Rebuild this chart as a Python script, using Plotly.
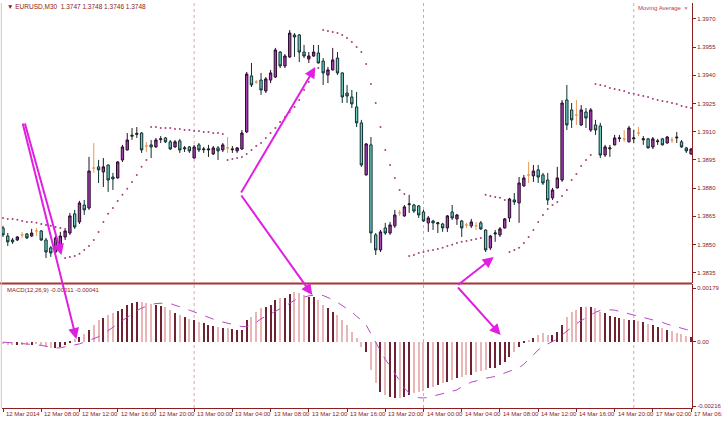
import plotly.graph_objects as go

# ---------------- data (EURUSD M30, bar index 0 = 12 Mar 04:00) ----------------
opens = [1.38588,1.38545,1.38524,1.38524,1.38551,1.38556,1.38545,1.38572,1.38572,1.38524,
         1.38482,1.38460,1.38498,1.38540,1.38561,1.38663,1.38620,1.38710,1.38694,1.38907,
         1.38913,1.38886,1.38923,1.38859,1.38854,1.38950,1.39003,1.39076,1.39086,1.39093,
         1.39024,1.39030,1.39019,1.39058,1.39067,1.39046,1.39019,1.39051,1.39009,1.39019,
         1.38960,1.39030,1.39004,1.39003,1.38982,1.39014,1.39003,1.39014,1.39004,1.38998,
         1.39008,1.39099,1.39397,1.39365,1.39375,1.39317,1.39375,1.39391,1.39524,1.39450,
         1.39498,1.39615,1.39615,1.39524,1.39487,1.39503,1.39519,1.39476,1.39402,1.39429,
         1.39492,1.39413,1.39306,1.39285,1.39232,1.39147,1.38870,1.39030,1.38551,1.38471,
         1.38588,1.38561,1.38599,1.38668,1.38652,1.38712,1.38710,1.38705,1.38673,1.38615,
         1.38625,1.38610,1.38609,1.38588,1.38673,1.38636,1.38625,1.38604,1.38599,1.38599,
         1.38615,1.38577,1.38482,1.38556,1.38551,1.38588,1.38641,1.38737,1.38721,1.38812,
         1.38870,1.38865,1.38897,1.38870,1.38843,1.38748,1.38801,1.38843,1.39269,1.39216,
         1.39189,1.39136,1.39205,1.39109,1.39136,1.39131,1.38976,1.39009,1.39030,1.39063,
         1.39062,1.39046,1.39062,1.39093,1.39057,1.39062,1.39019,1.39047,1.39062,1.39040,
         1.39056,1.39072,1.39046,1.39014,1.38982]
highs = [1.38599,1.38561,1.38535,1.38545,1.38567,1.38561,1.38583,1.38588,1.38577,1.38535,
         1.38492,1.38545,1.38567,1.38588,1.38668,1.38684,1.38732,1.38737,1.38966,1.39040,
         1.38950,1.38960,1.38926,1.38881,1.38944,1.39030,1.39093,1.39120,1.39125,1.39098,
         1.39046,1.39056,1.39067,1.39077,1.39072,1.39056,1.39056,1.39062,1.39024,1.39024,
         1.39030,1.39040,1.39019,1.39030,1.39024,1.39024,1.39040,1.39072,1.39024,1.39019,
         1.39109,1.39418,1.39466,1.39375,1.39413,1.39391,1.39429,1.39546,1.39529,1.39514,
         1.39641,1.39625,1.39620,1.39562,1.39524,1.39562,1.39562,1.39492,1.39445,1.39546,
         1.39524,1.39416,1.39349,1.39322,1.39312,1.39163,1.39040,1.39072,1.38561,1.38577,
         1.38615,1.38620,1.38684,1.38684,1.38710,1.38764,1.38716,1.38710,1.38684,1.38652,
         1.38631,1.38620,1.38615,1.38657,1.38710,1.38663,1.38631,1.38615,1.38636,1.38620,
         1.38625,1.38580,1.38551,1.38577,1.38593,1.38641,1.38748,1.38774,1.38859,1.38870,
         1.38939,1.38923,1.38923,1.38881,1.38881,1.38801,1.38913,1.39269,1.39349,1.39253,
         1.39269,1.39242,1.39226,1.39226,1.39163,1.39147,1.39030,1.39030,1.39083,1.39083,
         1.39109,1.39131,1.39109,1.39125,1.39077,1.39067,1.39072,1.39062,1.39067,1.39077,
         1.39072,1.39099,1.39056,1.39019,1.39014]
lows = [1.38540,1.38492,1.38503,1.38519,1.38535,1.38529,1.38540,1.38545,1.38519,1.38428,
        1.38434,1.38450,1.38471,1.38524,1.38551,1.38583,1.38609,1.38657,1.38684,1.38881,
        1.38827,1.38806,1.38780,1.38790,1.38850,1.38939,1.39000,1.39056,1.39067,1.38987,
        1.38992,1.38960,1.39015,1.39040,1.39040,1.39003,1.39014,1.38987,1.38992,1.38987,
        1.38957,1.38992,1.38987,1.38966,1.38976,1.38950,1.38992,1.38987,1.38987,1.38987,
        1.39003,1.39093,1.39338,1.39354,1.39296,1.39306,1.39359,1.39386,1.39439,1.39439,
        1.39492,1.39498,1.39471,1.39492,1.39466,1.39498,1.39463,1.39349,1.39359,1.39426,
        1.39402,1.39253,1.39253,1.39226,1.39125,1.38913,1.38867,1.38508,1.38444,1.38460,
        1.38551,1.38551,1.38588,1.38652,1.38647,1.38668,1.38668,1.38641,1.38620,1.38567,
        1.38577,1.38561,1.38567,1.38567,1.38631,1.38604,1.38540,1.38588,1.38588,1.38577,
        1.38577,1.38460,1.38471,1.38514,1.38540,1.38585,1.38620,1.38710,1.38615,1.38806,
        1.38827,1.38833,1.38827,1.38817,1.38710,1.38737,1.38798,1.38833,1.39109,1.39120,
        1.39136,1.39131,1.39120,1.39099,1.39083,1.38960,1.38966,1.38966,1.39027,1.39046,
        1.39046,1.39043,1.39040,1.39077,1.39030,1.39011,1.39008,1.39030,1.39027,1.39037,
        1.39040,1.39040,1.39014,1.38987,1.38976]
closes = [1.38551,1.38514,1.38514,1.38540,1.38551,1.38535,1.38561,1.38572,1.38524,1.38460,
          1.38455,1.38535,1.38545,1.38572,1.38652,1.38593,1.38721,1.38684,1.38891,1.38907,
          1.38897,1.38913,1.38843,1.38849,1.38939,1.39019,1.39056,1.39081,1.39091,1.39003,
          1.39024,1.39019,1.39056,1.39062,1.39046,1.39008,1.39046,1.39003,1.39014,1.38998,
          1.39019,1.39003,1.39008,1.39008,1.39014,1.38998,1.39030,1.39014,1.39008,1.39014,
          1.39093,1.39407,1.39349,1.39365,1.39322,1.39381,1.39413,1.39535,1.39450,1.39503,
          1.39625,1.39604,1.39524,1.39503,1.39503,1.39524,1.39466,1.39413,1.39429,1.39482,
          1.39413,1.39285,1.39290,1.39248,1.39147,1.38923,1.39035,1.38561,1.38471,1.38567,
          1.38561,1.38604,1.38657,1.38668,1.38700,1.38716,1.38678,1.38657,1.38625,1.38641,
          1.38615,1.38615,1.38588,1.38652,1.38641,1.38657,1.38588,1.38604,1.38620,1.38599,
          1.38583,1.38471,1.38545,1.38561,1.38583,1.38636,1.38742,1.38726,1.38827,1.38854,
          1.38870,1.38891,1.38859,1.38827,1.38737,1.38790,1.38854,1.39253,1.39136,1.39163,
          1.39189,1.39216,1.39173,1.39216,1.39109,1.38976,1.39019,1.39014,1.39067,1.39067,
          1.39062,1.39120,1.39067,1.39093,1.39062,1.39014,1.39062,1.39051,1.39030,1.39072,
          1.39056,1.39068,1.39019,1.38998,1.39008]
# dotted indicator ("Moving Average" study, drawn as dots)
ma_dots = [1.38641,1.38636,1.38636,1.38631,1.38625,1.38620,1.38620,1.38615,1.38609,1.38604,
           1.38599,1.38593,1.38588,1.38428,1.38434,1.38439,1.38450,1.38471,1.38492,1.38524,
           1.38567,1.38620,1.38663,1.38694,1.38732,1.38764,1.38796,1.38833,1.38870,1.38913,
           1.38950,1.39125,1.39125,1.39120,1.39120,1.39120,1.39115,1.39115,1.39109,1.39109,
           1.39104,1.39104,1.39099,1.39099,1.39093,1.39093,1.39088,1.38950,1.38955,1.38960,
           1.38966,1.38982,1.39003,1.39024,1.39040,1.39067,1.39093,1.39120,1.39152,1.39179,
           1.39205,1.39232,1.39269,1.39322,1.39365,1.39402,1.39439,1.39641,1.39636,1.39631,
           1.39625,1.39615,1.39599,1.39577,1.39551,1.39524,1.39460,1.39354,1.39253,1.39125,
           1.39003,1.38923,1.38854,1.38790,1.38769,1.38439,1.38444,1.38455,1.38460,1.38466,
           1.38471,1.38476,1.38482,1.38492,1.38498,1.38508,1.38514,1.38519,1.38524,1.38529,
           1.38535,1.38764,1.38758,1.38753,1.38748,1.38737,1.38460,1.38471,1.38482,1.38508,
           1.38540,1.38577,1.38620,1.38657,1.38689,1.38710,1.38726,1.38758,1.38790,1.38843,
           1.38875,1.38918,1.38950,1.38976,1.39354,1.39349,1.39343,1.39333,1.39327,1.39322,
           1.39317,1.39306,1.39302,1.39296,1.39290,1.39285,1.39275,1.39269,1.39264,1.39259,
           1.39253,1.39248,1.39237,1.39232,1.39226]
macd_main = [-0.00010,-0.00012,-0.00013,-0.00012,-0.00011,-0.00012,-0.00011,-0.00010,-0.00012,-0.00018,
             -0.00022,-0.00022,-0.00020,-0.00012,-0.00003,0.00010,0.00015,0.00025,0.00038,0.00055,
             0.00072,0.00079,0.00089,0.00095,0.00102,0.00109,0.00122,0.00129,0.00132,0.00132,
             0.00129,0.00126,0.00122,0.00119,0.00115,0.00105,0.00095,0.00089,0.00082,0.00075,
             0.00072,0.00065,0.00062,0.00055,0.00052,0.00049,0.00045,0.00045,0.00042,0.00038,
             0.00038,0.00072,0.00082,0.00099,0.00112,0.00115,0.00122,0.00139,0.00146,0.00146,
             0.00159,0.00166,0.00162,0.00156,0.00149,0.00149,0.00139,0.00122,0.00112,0.00099,
             0.00089,0.00072,0.00055,0.00032,0.00012,-0.00018,-0.00035,-0.00095,-0.00139,-0.00169,
             -0.00179,-0.00186,-0.00189,-0.00189,-0.00186,-0.00179,-0.00172,-0.00169,-0.00166,-0.00156,
             -0.00152,-0.00146,-0.00139,-0.00136,-0.00129,-0.00122,-0.00119,-0.00112,-0.00112,-0.00102,
             -0.00099,-0.00095,-0.00089,-0.00089,-0.00079,-0.00069,-0.00052,-0.00035,-0.00018,-0.00005,
             0.00002,0.00012,0.00022,0.00028,0.00022,0.00022,0.00032,0.00055,0.00082,0.00099,
             0.00105,0.00115,0.00115,0.00115,0.00112,0.00099,0.00095,0.00085,0.00082,0.00079,
             0.00075,0.00072,0.00072,0.00069,0.00065,0.00059,0.00055,0.00049,0.00045,0.00038,
             0.00035,0.00028,0.00025,0.00018,0.00015]
macd_signal = [-0.00002,-0.00003,-0.00004,-0.00005,-0.00006,-0.00008,-0.00009,-0.00011,-0.00013,-0.00016,
               -0.00019,-0.00022,-0.00021,-0.00018,-0.00015,-0.00012,-0.00008,-0.00002,0.00004,0.00010,
               0.00016,0.00026,0.00036,0.00046,0.00058,0.00070,0.00082,0.00093,0.00103,0.00112,
               0.00119,0.00124,0.00127,0.00129,0.00129,0.00127,0.00122,0.00117,0.00111,0.00105,
               0.00099,0.00093,0.00087,0.00080,0.00074,0.00069,0.00065,0.00062,0.00058,0.00054,
               0.00050,0.00050,0.00056,0.00064,0.00076,0.00084,0.00092,0.00102,0.00110,0.00118,
               0.00128,0.00138,0.00144,0.00149,0.00153,0.00155,0.00156,0.00154,0.00148,0.00140,
               0.00131,0.00121,0.00111,0.00099,0.00084,0.00072,0.00055,0.00025,-0.00005,-0.00032,
               -0.00060,-0.00082,-0.00108,-0.00130,-0.00156,-0.00172,-0.00183,-0.00188,-0.00189,-0.00187,
               -0.00183,-0.00179,-0.00174,-0.00170,-0.00166,-0.00162,-0.00152,-0.00143,-0.00136,-0.00132,
               -0.00127,-0.00123,-0.00120,-0.00117,-0.00111,-0.00105,-0.00100,-0.00095,-0.00088,-0.00076,
               -0.00062,-0.00045,-0.00028,-0.00017,-0.00008,0.00000,0.00008,0.00022,0.00035,0.00049,
               0.00060,0.00070,0.00080,0.00088,0.00098,0.00104,0.00106,0.00106,0.00105,0.00101,
               0.00096,0.00092,0.00088,0.00085,0.00080,0.00076,0.00072,0.00068,0.00064,0.00058,
               0.00053,0.00049,0.00045,0.00040,0.00037]
tick_index = [0, 8, 16, 24, 32, 40, 48, 56, 64, 72, 80, 88, 96, 104, 112, 120, 128, 136, 144]
tick_labels = ["12 Mar 2014", "12 Mar 08:00", "12 Mar 12:00", "12 Mar 16:00", "12 Mar 20:00",
               "13 Mar 00:00", "13 Mar 04:00", "13 Mar 08:00", "13 Mar 12:00", "13 Mar 16:00",
               "13 Mar 20:00", "14 Mar 00:00", "14 Mar 04:00", "14 Mar 08:00", "14 Mar 12:00",
               "14 Mar 16:00", "14 Mar 20:00", "17 Mar 02:00", "17 Mar 06:"]
day_breaks = [40, 88, 132]
price_ticks = [1.3835, 1.3850, 1.3865, 1.3880, 1.3895, 1.3910, 1.3925, 1.3940, 1.3955, 1.3970]
macd_ticks = [0.00179, 0.0, -0.00216]
macd_tick_text = ["0.00179", "0.00", "-0.00216"]

# ---------------- styling ----------------
AX = "#8b2020"
FONT = "Liberation Sans"
MAG = "#e020e0"
n = len(opens)
idx = list(range(n))
XR = [-0.21, 144.19]

main_i, orange_i, black_i = [], [], []
for i in idx:
    body = abs(closes[i] - opens[i])
    if body < 1e-7:
        orange_i.append(i)
    elif body <= 0.000065:
        black_i.append(i)
    else:
        main_i.append(i)

def sub(arr, ids):
    return [arr[i] for i in ids]

fig = go.Figure()
fig.add_trace(go.Candlestick(
    x=main_i, open=sub(opens, main_i), high=sub(highs, main_i),
    low=sub(lows, main_i), close=sub(closes, main_i),
    increasing=dict(fillcolor="#a43fb6", line=dict(color="#2a0c2a", width=1)),
    decreasing=dict(fillcolor="#6ccbc3", line=dict(color="#0f2f2f", width=1)),
    xaxis="x", yaxis="y", showlegend=False, hoverinfo="skip"))
fig.add_trace(go.Candlestick(
    x=orange_i, open=sub(opens, orange_i), high=sub(highs, orange_i),
    low=sub(lows, orange_i), close=sub(closes, orange_i),
    increasing=dict(fillcolor="#e89a5a", line=dict(color="#e89a5a", width=1)),
    decreasing=dict(fillcolor="#e89a5a", line=dict(color="#e89a5a", width=1)),
    xaxis="x", yaxis="y", showlegend=False, hoverinfo="skip"))
fig.add_trace(go.Candlestick(
    x=black_i, open=sub(opens, black_i), high=sub(highs, black_i),
    low=sub(lows, black_i), close=sub(closes, black_i),
    increasing=dict(fillcolor="#202020", line=dict(color="#202020", width=1)),
    decreasing=dict(fillcolor="#202020", line=dict(color="#202020", width=1)),
    xaxis="x", yaxis="y", showlegend=False, hoverinfo="skip"))
fig.add_trace(go.Scatter(
    x=idx, y=ma_dots, mode="markers",
    marker=dict(size=2.0, color="#a8407e"),
    xaxis="x", yaxis="y", showlegend=False, hoverinfo="skip"))

bar_colors = ["#6e2232" if closes[i] > opens[i] else "#e8b6b6" for i in idx]
fig.add_trace(go.Bar(
    x=idx, y=macd_main, width=0.24, marker=dict(color=bar_colors, line=dict(width=0)),
    xaxis="x", yaxis="y2", showlegend=False, hoverinfo="skip"))
fig.add_trace(go.Scatter(
    x=idx, y=macd_signal, mode="lines",
    line=dict(color="#b848c8", width=1, dash="dash"),
    xaxis="x", yaxis="y2", showlegend=False, hoverinfo="skip"))

W, H = 724, 422
L, R, T, B = 2, 26, 3, 14
plot_w = W - L - R
plot_h = H - T - B
def px(xp):
    return (xp - L) / plot_w
def py(yp):
    return (H - B - yp) / plot_h
def xpaper(i):
    return (i - XR[0]) / (XR[1] - XR[0])

sep_y = py(283.5)
fig.update_layout(
    width=W, height=H,
    margin=dict(l=L, r=R, t=T, b=B),
    paper_bgcolor="white", plot_bgcolor="white",
    font=dict(family=FONT, size=6, color=AX),
    boxgap=0.3,
    xaxis=dict(range=XR, anchor="y2", showgrid=False, zeroline=False,
               rangeslider=dict(visible=False), tickvals=tick_index, showticklabels=False,
               ticks="outside", ticklen=3, tickcolor=AX,
               showline=True, linecolor=AX, linewidth=1),
    yaxis=dict(domain=[py(283), 1.0], range=[1.38295, 1.39785], side="right",
               showgrid=False, zeroline=False, tickvals=price_ticks, tickformat=".4f",
               ticks="outside", ticklen=3, tickcolor=AX,
               tickfont=dict(family=FONT, size=6, color=AX),
               showline=True, linecolor=AX, linewidth=1),
    yaxis2=dict(domain=[0.0, py(284)], range=[-0.002226, 0.001925], side="right",
                showgrid=False, zeroline=False, tickvals=macd_ticks, ticktext=macd_tick_text,
                ticks="outside", ticklen=3, tickcolor=AX,
                tickfont=dict(family=FONT, size=6, color=AX),
                showline=True, linecolor=AX, linewidth=1),
    bargap=0,
)

shapes = []
for d in day_breaks:
    shapes.append(dict(type="line", xref="x", yref="paper", x0=d, x1=d, y0=0, y1=1,
                       line=dict(color="#e0a4a4", width=1, dash="dot"), layer="below"))
shapes.append(dict(type="line", xref="paper", yref="paper", x0=-0.003, x1=1.0,
                   y0=sep_y, y1=sep_y, line=dict(color="#a83434", width=2)))
shapes.append(dict(type="line", xref="paper", yref="paper", x0=-0.001, x1=-0.001,
                   y0=0, y1=1.0, line=dict(color="#d8c4c4", width=1)))
fig.update_layout(shapes=shapes)

ann = []
for t, lab in zip(tick_index, tick_labels):
    ann.append(dict(x=xpaper(t) + 0.0015, y=py(414), xref="paper", yref="paper", text=lab,
                    showarrow=False, xanchor="left", yanchor="middle",
                    font=dict(family=FONT, size=6, color=AX)))
ann.append(dict(x=px(5), y=py(7), xref="paper", yref="paper",
                text="▼ EURUSD,M30  1.3747 1.3748 1.3746 1.3748",
                showarrow=False, xanchor="left", yanchor="middle",
                font=dict(family=FONT, size=6.5, color="#8b1a1a")))
ann.append(dict(x=px(696), y=py(8), xref="paper", yref="paper",
                text="Moving Average  ×", showarrow=False, xanchor="right", yanchor="middle",
                font=dict(family=FONT, size=6, color="#c03a3a")))
ann.append(dict(x=px(5), y=py(290), xref="paper", yref="paper",
                text="MACD(12,26,9) -0.00011 -0.00041", showarrow=False,
                xanchor="left", yanchor="middle",
                font=dict(family=FONT, size=6, color="#8b1a1a")))

# hand-drawn annotation arrows (tail -> head, in pixels)
arrows = [((23, 122), (77, 339)), ((25, 122), (62, 255)),
          ((243, 194), (318, 67)), ((243, 194), (315, 295)),
          ((461, 286), (498, 257)), ((461, 286), (505, 335))]
for (tx, ty), (hx, hy) in arrows:
    ann.append(dict(x=px(hx), y=py(hy), xref="paper", yref="paper", text="",
                    showarrow=True, axref="pixel", ayref="pixel",
                    ax=tx - hx, ay=ty - hy, arrowhead=2, arrowsize=1.1,
                    arrowwidth=2, arrowcolor=MAG, standoff=0, startstandoff=0))
fig.update_layout(annotations=ann)

fig.write_html("out.html", config={"displayModeBar": False},
               post_script="document.body.style.margin='0';document.body.style.overflow='hidden';")
